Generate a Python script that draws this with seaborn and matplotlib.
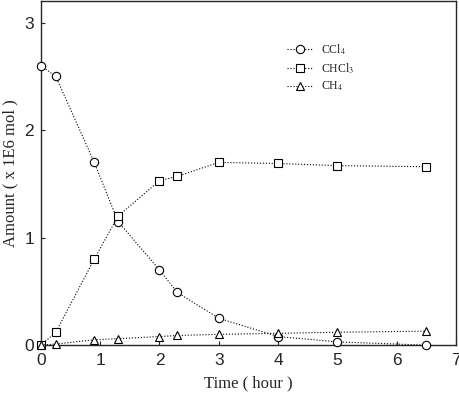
import pandas as pd
import matplotlib
matplotlib.use("Agg")
import matplotlib.pyplot as plt
import seaborn as sns

# Data
time_h = [0, 0.25, 0.9, 1.3, 2.0, 2.3, 3.0, 4.0, 5.0, 6.5]
ccl4 = [2.6, 2.5, 1.7, 1.15, 0.7, 0.49, 0.25, 0.08, 0.03, 0.0]
chcl3 = [0.0, 0.12, 0.8, 1.2, 1.53, 1.57, 1.7, 1.69, 1.67, 1.66]
ch4 = [0.0, 0.01, 0.05, 0.06, 0.08, 0.09, 0.1, 0.11, 0.12, 0.13]

series_names = ["CCl$_4$", "CHCl$_3$", "CH$_4$"]
series_values = [ccl4, chcl3, ch4]
series_markers = ["o", "s", "^"]

sns.set_style("ticks")
plt.rcParams["font.family"] = ["Liberation Serif", "DejaVu Serif"]
plt.rcParams["mathtext.fontset"] = "stix"

fig = plt.figure(figsize=(4.6, 3.99), dpi=100)
ax = fig.add_axes([0.089, 0.135, 0.902, 0.862])

for name, vals, mk in zip(series_names, series_values, series_markers):
    df = pd.DataFrame({"time": time_h, "amount": vals})
    sns.lineplot(data=df, x="time", y="amount", ax=ax, color="black",
                 linestyle=":", linewidth=0.8, marker=mk, markersize=6,
                 markerfacecolor="white", markeredgecolor="black",
                 markeredgewidth=0.8, label=name, clip_on=False, zorder=3)

ax.set_xlim(0, 7)
ax.set_ylim(0, 3.2)
ax.set_xticks(range(0, 8))
ax.set_yticks([0, 1, 2, 3])
for lab in ax.get_xticklabels() + ax.get_yticklabels():
    lab.set_family("Liberation Sans")
    lab.set_fontsize(12.5)
ax.tick_params(direction="in", length=3, width=0.8)
ax.tick_params(axis="y", pad=5)
ax.tick_params(axis="x", pad=6)
for sp in ax.spines.values():
    sp.set_visible(True)
    sp.set_linewidth(1.0)

ax.set_xlabel("Time ( hour )", fontsize=12, labelpad=5)
ax.set_ylabel("Amount ( x 1E6 mol )", fontsize=12, labelpad=4)

ax.legend(loc="upper left", bbox_to_anchor=(0.567, 0.911), frameon=False,
          fontsize=8.5, handlelength=2.2, handletextpad=0.7, labelspacing=0.35)

fig.savefig("out.png", dpi=100)
